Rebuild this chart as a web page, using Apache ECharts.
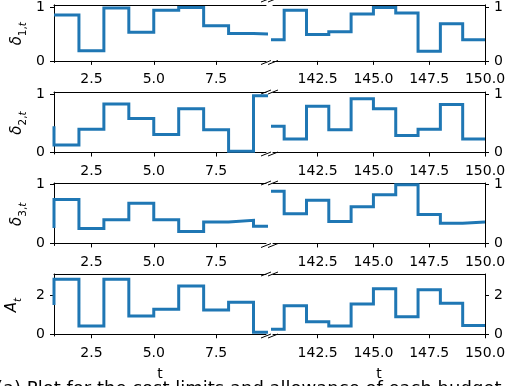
<!DOCTYPE html>
<html>
<head>
<meta charset="utf-8">
<script src="https://cdn.jsdelivr.net/npm/echarts@6/dist/echarts.min.js"></script>
<style>html,body{margin:0;padding:0;background:#fff;}#c{width:525px;height:386px;}</style>
</head>
<body>
<div id="c"></div>
<script>
// ---- data (steps-pre: value at t holds on (t-1, t]) ----
const tLeft = [1, 2, 3, 4, 5, 6, 7, 8, 9, 10];
const tRight = [140, 141, 142, 143, 144, 145, 146, 147, 148, 149, 150];

const delta1Left  = [0.85, 0.85, 0.19, 0.98, 0.53, 0.94, 0.99, 0.65, 0.51, 0.49];
const delta1Right = [0.39, 0.39, 0.94, 0.49, 0.54, 0.87, 0.99, 0.89, 0.18, 0.69, 0.39];
const delta2Left  = [0.45, 0.13, 0.40, 0.83, 0.58, 0.31, 0.75, 0.39, 0.02, 0.97];
const delta2Right = [0.45, 0.45, 0.23, 0.79, 0.39, 0.92, 0.75, 0.29, 0.40, 0.82, 0.23];
const delta3Left  = [0.26, 0.74, 0.25, 0.40, 0.68, 0.40, 0.20, 0.36, 0.39, 0.29];
const delta3Right = [0.88, 0.88, 0.50, 0.73, 0.37, 0.62, 0.82, 0.99, 0.49, 0.34, 0.36];
const aLeft  = [1.52, 2.85, 0.43, 2.85, 0.95, 1.29, 2.50, 1.26, 1.66, 0.10];
const aRight = [0.26, 0.26, 1.48, 0.65, 0.43, 1.57, 2.35, 0.91, 2.30, 1.61, 0.45];

const xTicksLeft = [2.5, 5.0, 7.5];
const xTicksRight = [142.5, 145.0, 147.5, 150.0];
const yTicksDelta = [0, 1];
const yTicksA = [0, 2];
const xRangeLeft = [1, 9.5];
const xRangeRight = [140.5, 150];
const yNames = ['{d|δ}{n|1,}{i|t}', '{d|δ}{n|2,}{i|t}', '{d|δ}{n|3,}{i|t}', '{a|A}{i|t}'];
const caption = '(a) Plot for the cost limits and allowance of each budget';

// ---- layout ----
const rows = [
  {top: 0,   h: 62.5, ymin: -0.03,  ymax: 1.04,  ticks: yTicksDelta, L: delta1Left, R: delta1Right, gap: 25},
  {top: 92,  h: 62,   ymin: -0.025, ymax: 1.035, ticks: yTicksDelta, L: delta2Left, R: delta2Right, gap: 25},
  {top: 183, h: 62.5, ymin: -0.035, ymax: 1.02,  ticks: yTicksDelta, L: delta3Left, R: delta3Right, gap: 25},
  {top: 274, h: 62,   ymin: -0.09,  ymax: 3.12,  ticks: yTicksA,     L: aLeft,      R: aRight,      gap: 30}
];
const colL = {left: 54, width: 212};
const colR = {left: 273, width: 212};
const FONT = 'DejaVu Sans';
const BLUE = '#1f77b4';

const grid = [], xAxis = [], yAxis = [], series = [], graphic = [];
const axisLine = {show: true, lineStyle: {color: '#000', width: 1}};
const richName = {
  d: {fontFamily: FONT, fontSize: 15, fontStyle: 'italic', color: '#000', verticalAlign: 'top', padding: [0, 0, 4, 0]},
  a: {fontFamily: FONT, fontSize: 15, fontStyle: 'italic', color: '#000', verticalAlign: 'top', padding: [0, 0, 4, 0]},
  n: {fontFamily: FONT, fontSize: 10.5, color: '#000', verticalAlign: 'bottom'},
  i: {fontFamily: FONT, fontSize: 10.5, fontStyle: 'italic', color: '#000', verticalAlign: 'bottom'}
};

rows.forEach((r, ri) => {
  [0, 1].forEach(side => {
    const col = side === 0 ? colL : colR;
    const gi = grid.length;
    grid.push({left: col.left, top: r.top, width: col.width, height: r.h, containLabel: false});
    const range = side === 0 ? xRangeLeft : xRangeRight;
    const ticks = side === 0 ? xTicksLeft : xTicksRight;
    // bottom x axis
    xAxis.push({
      type: 'value', gridIndex: gi, position: 'bottom', min: range[0], max: range[1],
      axisLine: axisLine, splitLine: {show: false},
      axisTick: {show: true, customValues: ticks, length: 4, lineStyle: {color: '#000', width: 1}},
      axisLabel: {show: true, customValues: ticks, margin: 10, color: '#000', fontFamily: FONT, fontSize: 14,
        formatter: v => Number(v).toFixed(1)},
      name: ri === rows.length - 1 ? 't' : '', nameLocation: 'middle', nameGap: 31,
      nameTextStyle: {color: '#000', fontFamily: FONT, fontSize: 14}
    });
    const bottomIdx = xAxis.length - 1;
    // top spine
    xAxis.push({
      type: 'value', gridIndex: gi, position: 'top', min: range[0], max: range[1],
      axisLine: axisLine, splitLine: {show: false}, axisTick: {show: false}, axisLabel: {show: false}
    });
    yAxis.push({
      type: 'value', gridIndex: gi, position: side === 0 ? 'left' : 'right', min: r.ymin, max: r.ymax,
      axisLine: axisLine, splitLine: {show: false},
      axisTick: {show: true, customValues: r.ticks, length: 4, lineStyle: {color: '#000', width: 1}},
      axisLabel: {show: true, customValues: r.ticks, margin: 9, color: '#000', fontFamily: FONT, fontSize: 14},
      name: side === 0 ? yNames[ri] : '', nameLocation: 'middle', nameRotate: 90, nameGap: r.gap,
      nameTextStyle: {rich: richName}
    });
    const xs = side === 0 ? tLeft : tRight;
    const ys = side === 0 ? r.L : r.R;
    series.push({
      type: 'line', xAxisIndex: bottomIdx, yAxisIndex: yAxis.length - 1,
      data: xs.map((t, k) => [t, ys[k]]), step: 'start', showSymbol: false, symbol: 'none',
      clip: true, lineStyle: {color: BLUE, width: 3, join: 'miter', cap: 'butt'}, silent: true
    });
  });
  // break marks
  [r.top, r.top + r.h].forEach(y => {
    [colL.left + colL.width, colR.left].forEach(cx => {
      graphic.push({type: 'line', shape: {x1: cx - 5, y1: y + 2, x2: cx + 5, y2: y - 2},
        style: {stroke: '#000', lineWidth: 1}, silent: true});
    });
  });
});

graphic.push({type: 'text', left: -4, top: 380, silent: true,
  style: {text: caption, fontFamily: FONT, fontSize: 18, fill: '#000'}});

const chart = echarts.init(document.getElementById('c'), null, {renderer: 'canvas'});
chart.setOption({
  animation: false, backgroundColor: '#fff',
  textStyle: {fontFamily: FONT},
  grid, xAxis, yAxis, series, graphic
});
</script>
</body>
</html>
